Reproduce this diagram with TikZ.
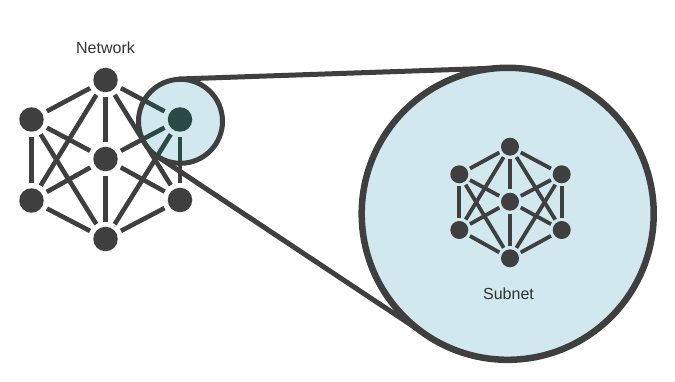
\documentclass[tikz,border=0pt]{standalone}
\usepackage{fontspec}
\setmainfont{Liberation Sans}
\newfontfamily\lblfont{Liberation Sans}
\definecolor{netgray}{HTML}{3F3F3F}
\definecolor{lightblue}{HTML}{D0E8EE}
\definecolor{tealdark}{HTML}{2B4A47}
\definecolor{textgray}{HTML}{333333}
\newcommand\netedges[2]{%
  \foreach \a/\b in {t/ul,t/ur,ul/ll,ur/lr,ll/b,lr/b,c/t,c/b,c/ul,c/ur,c/ll,c/lr,t/ll,t/lr,b/ul,b/ur}
    \draw[#2] (#1\a) -- (#1\b);%
}
\begin{document}
\begin{tikzpicture}[x=1pt,y=-1pt,
  nnode/.style={circle,fill=netgray,draw=none,inner sep=0pt,minimum size=24.5pt},
  snode/.style={circle,fill=netgray,draw=none,inner sep=0pt,minimum size=18pt},
  nedge/.style={draw=netgray,line width=4.6pt,shorten <=5pt,shorten >=5pt},
  tedge/.style={draw=tealdark,line width=4.6pt,shorten <=5pt,shorten >=5pt},
  sedge/.style={draw=netgray,line width=3.8pt,shorten <=3pt,shorten >=3pt},
  ring/.style={draw=netgray,fill=lightblue},
  tangent/.style={draw=netgray,line width=5pt},
  lbl/.style={text=textgray,font=\lblfont\fontsize{16}{19}\selectfont,inner sep=0pt}]
\useasboundingbox (0,0) rectangle (675,382);

% main network
\node[nnode] (nt)  at (105.5,80) {};
\node[nnode] (nul) at (31.5,119.5) {};
\node[nnode] (nur) at (180,119.5) {};
\node[nnode] (nc)  at (105.5,159) {};
\node[nnode] (nll) at (31.5,200.5) {};
\node[nnode] (nlr) at (180,200) {};
\node[nnode] (nb)  at (105.5,239) {};
\netedges{n}{nedge}
\node[lbl] (netlabel) at (105.5,47.5) {Network};

% magnifier (small circle)
\coordinate (c1) at (180.5,121.3);
\begin{scope}
  \clip (c1) circle (42pt);
  \fill[lightblue] (c1) circle (42pt);
  \netedges{n}{tedge}
  \fill[tealdark] (nur) circle (12.25pt);
\end{scope}
\draw[ring,fill=none,line width=5pt] (c1) circle (42pt);

% tangent lines
\coordinate (ta) at (178.56,79.03);
\coordinate (tb) at (502.68,67.89);
\coordinate (ba) at (156.78,156.0);
\coordinate (bb) at (426.97,335.45);
\draw[tangent] (ta) -- (tb);
\draw[tangent] (ba) -- (bb);

% big circle
\coordinate (c2) at (507.7,213.8);
\draw[ring,line width=6.5pt] (c2) circle (146pt);

% subnet
\node[snode] (st)  at (510,146.7) {};
\node[snode] (sul) at (459.3,174.3) {};
\node[snode] (sur) at (561.7,174.3) {};
\node[snode] (sc)  at (510,201.7) {};
\node[snode] (sll) at (459.3,230) {};
\node[snode] (slr) at (561.7,230) {};
\node[snode] (sb)  at (510,258.3) {};
\netedges{s}{sedge}
\node[lbl] (sublabel) at (508.5,294) {Subnet};
\end{tikzpicture}
\end{document}
